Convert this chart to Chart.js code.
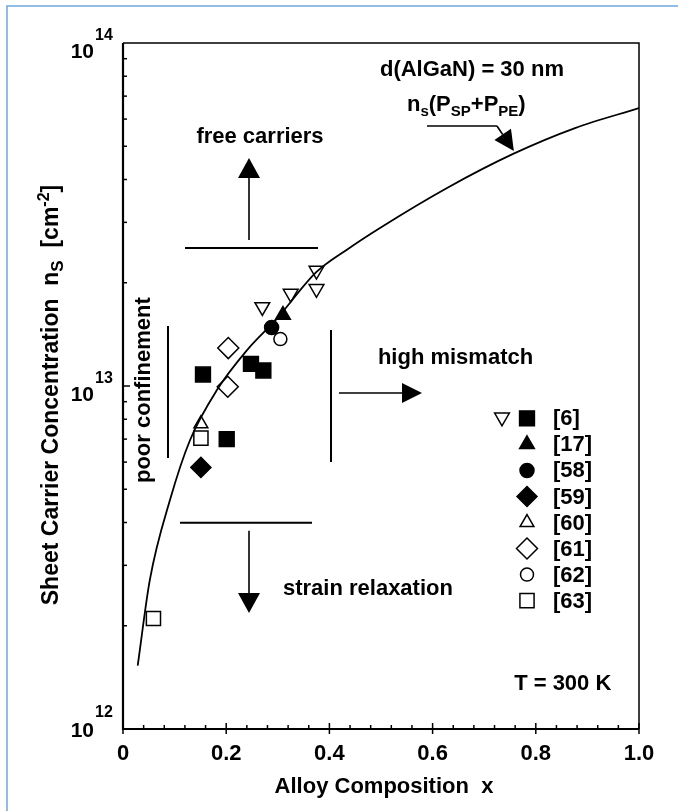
<!DOCTYPE html>
<html lang="en">
<head>
<meta charset="UTF-8">
<title>Sheet Carrier Concentration vs Alloy Composition</title>
<style>
  body { margin: 0; background: #fff; }
  #wrap { width: 678px; height: 811px; }
</style>
</head>
<body>
<div id="wrap"><canvas id="chart" width="678" height="811"></canvas></div>
<script src="https://cdn.jsdelivr.net/npm/chart.js"></script>
<script>
// theory curve ns(Psp+Ppe) for d(AlGaN) = 30 nm
const curveX = [0.0285, 0.052, 0.091, 0.13, 0.182, 0.24, 0.298, 0.375, 0.436, 0.498, 0.628, 0.756, 0.876, 1.0];
const curveY = [1.53e12, 2.72e12, 4.65e12, 6.96e12, 9.73e12, 1.27e13, 1.57e13, 2.15e13, 2.51e13, 2.89e13, 3.78e13, 4.75e13, 5.65e13, 6.46e13];

// measured points, by reference
const ref6OpenX = [0.27, 0.325, 0.375, 0.375];
const ref6OpenY = [1.70e13, 1.86e13, 2.17e13, 1.92e13];
const ref6FilledX = [0.155, 0.248, 0.272, 0.201];
const ref6FilledY = [1.08e13, 1.16e13, 1.11e13, 7.0e12];
const ref17X = [0.31];
const ref17Y = [1.61e13];
const ref58X = [0.288];
const ref58Y = [1.48e13];
const ref59X = [0.151];
const ref59Y = [5.79e12];
const ref60X = [0.151];
const ref60Y = [7.76e12];
const ref61X = [0.204, 0.203];
const ref61Y = [1.29e13, 9.95e12];
const ref62X = [0.305];
const ref62Y = [1.37e13];
const ref63X = [0.151, 0.059];
const ref63Y = [7.05e12, 2.10e12];

const legendLabels = ['[6]', '[17]', '[58]', '[59]', '[60]', '[61]', '[62]', '[63]'];
const xTickValues = [0, 0.2, 0.4, 0.6, 0.8, 1.0];
const xTickLabels = ['0', '0.2', '0.4', '0.6', '0.8', '1.0'];
const yTickExponents = [12, 13, 14];

const FONT = '"Liberation Sans", Arial, Helvetica, sans-serif';

function pts(xs, ys) {
    return xs.map((x, i) => ({ x: x, y: ys[i] }));
}

function marker(label, data, style, filled, radius, rotation) {
    return {
        label: label,
        data: data,
        showLine: false,
        pointStyle: style,
        pointRadius: radius,
        pointRotation: rotation || 0,
        pointBackgroundColor: filled ? '#000' : '#fff',
        pointBorderColor: '#000',
        pointBorderWidth: 1.5
    };
}

const markerSets = [
    marker('[6] open', pts(ref6OpenX, ref6OpenY), 'triangle', false, 8.5, 180),
    marker('[6]', pts(ref6FilledX, ref6FilledY), 'rect', true, 10.5),
    marker('[17]', pts(ref17X, ref17Y), 'triangle', true, 8.5),
    marker('[58]', pts(ref58X, ref58Y), 'circle', true, 7),
    marker('[59]', pts(ref59X, ref59Y), 'rectRot', true, 10),
    marker('[60]', pts(ref60X, ref60Y), 'triangle', false, 8),
    marker('[61]', pts(ref61X, ref61Y), 'rectRot', false, 10.5),
    marker('[62]', pts(ref62X, ref62Y), 'circle', false, 6.5),
    marker('[63]', pts(ref63X, ref63Y), 'rect', false, 10)
];

function arrow(ctx, x0, y0, x1, y1, len, half) {
    const a = Math.atan2(y1 - y0, x1 - x0);
    const bx = x1 - len * Math.cos(a), by = y1 - len * Math.sin(a);
    ctx.beginPath();
    ctx.moveTo(x0, y0);
    ctx.lineTo(bx, by);
    ctx.stroke();
    ctx.beginPath();
    ctx.moveTo(x1, y1);
    ctx.lineTo(bx + half * Math.sin(a), by - half * Math.cos(a));
    ctx.lineTo(bx - half * Math.sin(a), by + half * Math.cos(a));
    ctx.closePath();
    ctx.fill();
}

// text made of runs with their own size and vertical shift (sub/superscripts)
function runsWidth(ctx, runs) {
    let w = 0;
    runs.forEach(r => {
        ctx.font = 'bold ' + r[1] + 'px ' + FONT;
        w += ctx.measureText(r[0]).width;
    });
    return w;
}

function drawRuns(ctx, runs, x, y) {
    runs.forEach(r => {
        ctx.font = 'bold ' + r[1] + 'px ' + FONT;
        ctx.fillText(r[0], x, y + (r[2] || 0));
        x += ctx.measureText(r[0]).width;
    });
}

function dot(ctx, ds, x, y) {
    ctx.save();
    ctx.fillStyle = ds.pointBackgroundColor;
    ctx.strokeStyle = ds.pointBorderColor;
    ctx.lineWidth = ds.pointBorderWidth;
    Chart.helpers.drawPoint(ctx, {
        pointStyle: ds.pointStyle,
        radius: ds.pointRadius,
        rotation: ds.pointRotation,
        borderWidth: ds.pointBorderWidth
    }, x, y);
    ctx.restore();
}

const figurePlugin = {
    id: 'figure',
    beforeDraw(chart) {
        const ctx = chart.ctx;
        ctx.save();
        ctx.fillStyle = '#fff';
        ctx.fillRect(0, 0, chart.width, chart.height);
        ctx.restore();
    },
    afterDraw(chart) {
        const ctx = chart.ctx;
        const a = chart.chartArea;
        const xs = chart.scales.x, ys = chart.scales.y;
        const X = v => xs.getPixelForValue(v);
        const Y = e => ys.getPixelForValue(Math.pow(10, e));

        ctx.save();
        ctx.strokeStyle = '#000';
        ctx.fillStyle = '#000';
        ctx.lineCap = 'butt';

        // frame
        ctx.lineWidth = 1.5;
        ctx.beginPath();
        ctx.moveTo(a.left, a.top);
        ctx.lineTo(a.right, a.top);
        ctx.lineTo(a.right, a.bottom);
        ctx.stroke();
        ctx.lineWidth = 2.2;
        ctx.beginPath();
        ctx.moveTo(a.left, a.top);
        ctx.lineTo(a.left, a.bottom);
        ctx.lineTo(a.right, a.bottom);
        ctx.stroke();

        // x ticks: major every 0.2, minor every 0.04
        ctx.lineWidth = 1.5;
        for (let i = 0; i <= 25; i++) {
            const px = X(i * 0.04);
            ctx.beginPath();
            if (i % 5 === 0) {
                ctx.moveTo(px, a.bottom + 5);
                ctx.lineTo(px, a.bottom - 6);
            } else {
                ctx.moveTo(px, a.bottom);
                ctx.lineTo(px, a.bottom - 4);
            }
            ctx.stroke();
        }
        // y ticks: decades and 2..9
        for (let e = 12; e < 14; e++) {
            for (let m = 1; m <= 9; m++) {
                const py = ys.getPixelForValue(m * Math.pow(10, e));
                ctx.beginPath();
                ctx.moveTo(a.left, py);
                ctx.lineTo(a.left + (m === 1 ? 7 : 4), py);
                ctx.stroke();
            }
        }

        // x tick labels
        ctx.textAlign = 'center';
        ctx.textBaseline = 'middle';
        ctx.font = 'bold 22px ' + FONT;
        xTickValues.forEach((v, i) => ctx.fillText(xTickLabels[i], X(v), a.bottom + 25));

        // y tick labels 10^n
        ctx.textBaseline = 'alphabetic';
        yTickExponents.forEach(e => {
            const py = Y(e);
            const low = e === 12;
            ctx.textAlign = 'right';
            ctx.font = 'bold 21px ' + FONT;
            ctx.fillText('10', 94, py + (low ? 8 : 15));
            ctx.textAlign = 'left';
            ctx.font = 'bold 16px ' + FONT;
            ctx.fillText(String(e), 95, py + (low ? -12 : -3));
        });

        // axis titles
        ctx.textAlign = 'left';
        const xTitle = [['Alloy Composition  x', 22]];
        drawRuns(ctx, xTitle, (a.left + a.right) / 2 + 3 - runsWidth(ctx, xTitle) / 2, 793);

        const yTitle = [['Sheet Carrier Concentration  n', 23], ['S', 17, 5], ['  [cm', 23], ['-2', 16, -9], [']', 23]];
        ctx.save();
        ctx.translate(58, 395);
        ctx.rotate(-Math.PI / 2);
        drawRuns(ctx, yTitle, -runsWidth(ctx, yTitle) / 2, 0);
        ctx.restore();

        // annotation text
        ctx.font = 'bold 22px ' + FONT;
        ctx.textAlign = 'center';
        ctx.textBaseline = 'middle';
        ctx.fillText('free carriers', X(0.2655), Y(13.726));
        ctx.textAlign = 'left';
        ctx.fillText('strain relaxation', X(0.31), Y(12.408));
        ctx.fillText('high mismatch', X(0.494), Y(13.082));
        ctx.fillText('d(AlGaN) = 30 nm', X(0.498), Y(13.921));
        ctx.fillText('T = 300 K', X(0.758), Y(12.131));
        ctx.save();
        ctx.translate(150, Y(12.988));
        ctx.rotate(-Math.PI / 2);
        ctx.textAlign = 'center';
        ctx.textBaseline = 'alphabetic';
        ctx.fillText('poor confinement', 0, 0);
        ctx.restore();

        ctx.textBaseline = 'alphabetic';
        drawRuns(ctx, [['n', 22], ['s', 15, 5], ['(P', 22], ['SP', 15, 5], ['+P', 22], ['PE', 15, 5], [')', 22]],
            X(0.5504), Y(13.8017));

        // boundary lines
        ctx.lineWidth = 2;
        ctx.beginPath();
        ctx.moveTo(X(0.1202), Y(13.4023));
        ctx.lineTo(X(0.3779), Y(13.4023));
        ctx.moveTo(X(0.1105), Y(12.6015));
        ctx.lineTo(X(0.3663), Y(12.6015));
        ctx.moveTo(X(0.0872), Y(13.1749));
        ctx.lineTo(X(0.0872), Y(12.7901));
        ctx.moveTo(X(0.4031), Y(13.1633));
        ctx.lineTo(X(0.4031), Y(12.7784));
        ctx.stroke();

        // arrows
        ctx.lineWidth = 1.6;
        arrow(ctx, X(0.2442), Y(13.4257), X(0.2442), Y(13.6647), 20, 11);
        arrow(ctx, X(0.2442), Y(12.5781), X(0.2442), Y(12.3382), 20, 11);
        arrow(ctx, X(0.4186), Y(12.9796), X(0.5795), Y(12.9796), 20, 10);
        ctx.beginPath();
        ctx.moveTo(X(0.5891), Y(13.758));
        ctx.lineTo(X(0.7248), Y(13.758));
        ctx.stroke();
        arrow(ctx, X(0.7248), Y(13.758), X(0.7575), Y(13.685), 20, 10);

        // legend
        const lx = 527, ty = 418.3, step = 26.05;
        ctx.font = 'bold 22px ' + FONT;
        ctx.textAlign = 'left';
        ctx.textBaseline = 'middle';
        legendLabels.forEach((lab, i) => {
            const yy = ty + i * step;
            dot(ctx, markerSets[i + 1], lx, yy);
            ctx.fillText(lab, 553, yy + 1);
        });
        dot(ctx, markerSets[0], 502, ty - 1);

        // page border
        ctx.strokeStyle = '#6fa6de';
        ctx.lineWidth = 1.5;
        ctx.beginPath();
        ctx.moveTo(7, 811);
        ctx.lineTo(7, 6);
        ctx.lineTo(678, 6);
        ctx.stroke();

        ctx.restore();
    }
};

new Chart(document.getElementById('chart'), {
    type: 'scatter',
    data: {
        datasets: [{
            label: 'ns(Psp+Ppe)',
            data: pts(curveX, curveY),
            showLine: true,
            pointRadius: 0,
            borderColor: '#000',
            borderWidth: 1.8,
            cubicInterpolationMode: 'monotone'
        }].concat(markerSets)
    },
    options: {
        responsive: false,
        animation: false,
        layout: { padding: { left: 123, right: 39, top: 43, bottom: 82 } },
        plugins: { legend: { display: false }, tooltip: { enabled: false } },
        scales: {
            x: { type: 'linear', min: 0, max: 1, display: false },
            y: { type: 'logarithmic', min: 1e12, max: 1e14, display: false }
        }
    },
    plugins: [figurePlugin]
});
</script>
</body>
</html>
